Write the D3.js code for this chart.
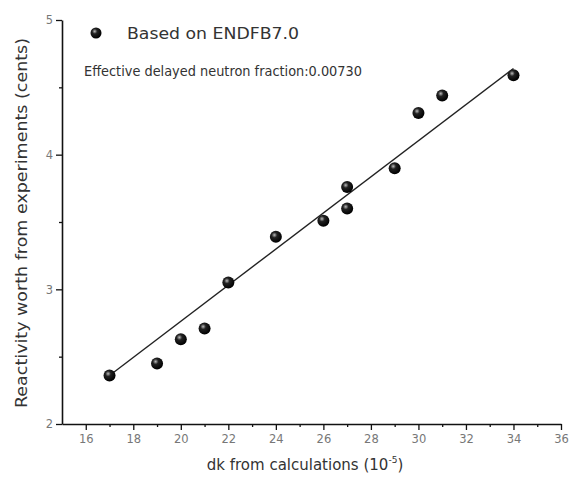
<!DOCTYPE html>
<html><head><meta charset="utf-8">
<script src="https://cdn.jsdelivr.net/npm/d3@7"></script>
<style>body{margin:0;background:#fff}svg{display:block}text{font-family:"DejaVu Sans",Verdana,sans-serif}</style>
</head><body>
<svg id="c" width="573" height="490"></svg>
<script>
const dkCalc = [17, 19, 20, 21, 22, 24, 26, 27, 27, 29, 30, 31, 34];
const reactivity = [2.36, 2.45, 2.63, 2.71, 3.05, 3.39, 3.51, 3.60, 3.76, 3.90, 4.31, 4.44, 4.59];
const fitX = [17, 34];
const fitY = [2.36, 4.64];
const xTicks = [16, 18, 20, 22, 24, 26, 28, 30, 32, 34, 36];
const xMinor = [17, 19, 21, 23, 25, 27, 29, 31, 33, 35];
const yTicks = [2, 3, 4, 5];
const yMinor = [2.5, 3.5, 4.5];
const legendLabel = "Based on ENDFB7.0";
const noteLabel = "Effective delayed neutron fraction:0.00730";

const svg = d3.select("#c");
const x = d3.scaleLinear().domain([15, 36]).range([62, 561]);
const y = d3.scaleLinear().domain([2, 5]).range([424, 20]);

const defs = svg.append("defs");
const g = defs.append("radialGradient").attr("id","ball").attr("cx","0.38").attr("cy","0.35").attr("r","0.65");
g.append("stop").attr("offset","0").attr("stop-color","#bbb");
g.append("stop").attr("offset","0.35").attr("stop-color","#222");
g.append("stop").attr("offset","1").attr("stop-color","#000");

const textCol = "#333";
// x axis
const xAxis = svg.append("g").attr("transform","translate(0,424)")
  .call(d3.axisBottom(x).tickValues(xTicks).tickSize(6).tickSizeOuter(0).tickFormat(d3.format("d")));
svg.append("g").attr("transform","translate(0,424)")
  .call(d3.axisBottom(x).tickValues(xMinor).tickSize(3).tickSizeOuter(0).tickFormat(""))
  .select(".domain").remove();
// y axis
const yAxis = svg.append("g").attr("transform","translate(62,0)")
  .call(d3.axisLeft(y).tickValues(yTicks).tickSize(6).tickSizeOuter(0).tickFormat(d3.format("d")));
svg.append("g").attr("transform","translate(62,0)")
  .call(d3.axisLeft(y).tickValues(yMinor).tickSize(3).tickSizeOuter(0).tickFormat(""))
  .select(".domain").remove();
svg.selectAll(".domain").attr("stroke","#111").attr("stroke-width",1.6);
svg.selectAll(".tick line").attr("stroke","#111").attr("stroke-width",1.3);
xAxis.selectAll(".tick text").attr("font-family","Liberation Sans, Arial, sans-serif").attr("font-size",11.5).attr("fill","#777").attr("dy","0.9em");
yAxis.selectAll(".tick text").attr("font-family","Liberation Sans, Arial, sans-serif").attr("font-size",11.5).attr("fill","#777").attr("dy","0.32em");

// fit line
svg.append("line")
  .attr("x1", x(fitX[0])).attr("y1", y(fitY[0]))
  .attr("x2", x(fitX[1])).attr("y2", y(fitY[1]))
  .attr("stroke","#222").attr("stroke-width",1.4);

// points
svg.append("g").selectAll("circle").data(dkCalc.map((d,i)=>[d,reactivity[i]])).join("circle")
  .attr("cx", d=>x(d[0])).attr("cy", d=>y(d[1])).attr("r",6)
  .attr("fill","url(#ball)");

// legend
svg.append("circle").attr("cx",96).attr("cy",33).attr("r",5.5).attr("fill","url(#ball)");
svg.append("text").attr("x",127).attr("y",39).attr("font-size",15).attr("fill",textCol)
  .attr("textLength",172).attr("lengthAdjust","spacingAndGlyphs").text(legendLabel);
svg.append("text").attr("x",84).attr("y",76).attr("font-size",14.5).attr("fill",textCol)
  .attr("textLength",278).attr("lengthAdjust","spacingAndGlyphs").text(noteLabel);

// axis titles
const xt = svg.append("text").attr("x",305).attr("y",470).attr("text-anchor","middle").attr("font-size",15).attr("fill",textCol);
xt.append("tspan").text("dk from calculations (10");
xt.append("tspan").attr("font-size",9).attr("dy",-7).text("-5");
xt.append("tspan").attr("dy",7).text(")");
svg.append("text").attr("transform","translate(27,223) rotate(-90)").attr("text-anchor","middle")
  .attr("font-size",15).attr("fill",textCol)
  .attr("textLength",370).attr("lengthAdjust","spacingAndGlyphs").text("Reactivity worth from experiments (cents)");
</script>
</body></html>
